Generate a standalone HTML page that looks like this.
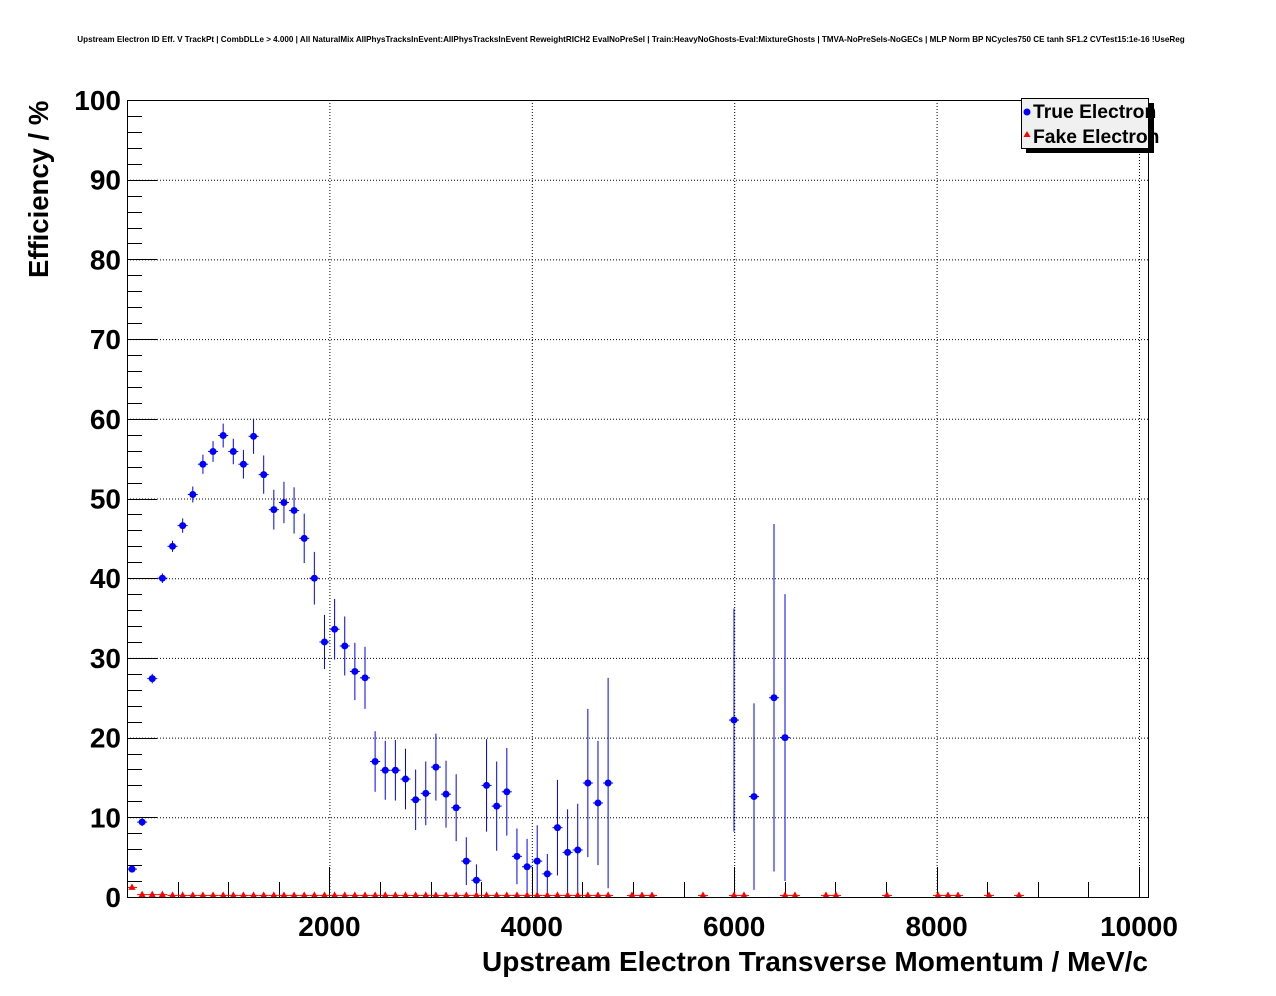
<!DOCTYPE html>
<html><head><meta charset="utf-8"><style>
body{margin:0;background:#fff;}
svg{display:block;font-family:"Liberation Sans",Arial,sans-serif;}
</style></head><body>
<svg id="s" width="1276" height="996" xmlns="http://www.w3.org/2000/svg">
<rect width="1276" height="996" fill="#fff"/>
<text x="631" y="42" font-size="8.1" font-weight="bold" text-anchor="middle">Upstream Electron ID Eff. V TrackPt | CombDLLe &gt; 4.000 | All NaturalMix AllPhysTracksInEvent:AllPhysTracksInEvent ReweightRICH2 EvalNoPreSel | Train:HeavyNoGhosts-Eval:MixtureGhosts | TMVA-NoPreSels-NoGECs | MLP Norm BP NCycles750 CE tanh SF1.2 CVTest15:1e-16 !UseReg</text>
<g id="grid" stroke="#000" stroke-width="1" stroke-dasharray="1,2"></g>
<g id="axes"></g>
<g id="data"></g>
<rect x="127.5" y="100.5" width="1021" height="797" fill="none" stroke="#000"/>
<text x="1148" y="971" font-size="28" font-weight="bold" text-anchor="end">Upstream Electron Transverse Momentum / MeV/c</text>
<text transform="translate(48,278) rotate(-90)" font-size="27.5" font-weight="bold">Efficiency / %</text>
<rect x="1026" y="103" width="128" height="50" fill="#000"/>
<rect x="1021.5" y="98.5" width="127" height="50" fill="#f0f0f0" stroke="#000"/>
<circle cx="1027" cy="112" r="3.5" fill="#00f"/>
<text x="1033" y="118" font-size="19.3" font-weight="bold">True Electron</text>
<polygon points="1027,131 1023.5,137 1030.5,137" fill="#f00"/>
<text x="1033" y="143" font-size="19.3" font-weight="bold">Fake Electron</text>
</svg>
<script>
const NS="http://www.w3.org/2000/svg";
function el(p,t,a,txt){const e=document.createElementNS(NS,t);for(const k in a)e.setAttribute(k,a[k]);if(txt!==undefined)e.textContent=txt;document.getElementById(p).appendChild(e);return e;}
const X=v=>127+v*0.1012, Y=v=>897-v*7.97;
for(let v=2000;v<=10000;v+=2000){el("grid","line",{x1:X(v)+.5,x2:X(v)+.5,y1:100,y2:897});}
for(let v=10;v<=100;v+=10){el("grid","line",{x1:127,x2:1148,y1:Y(v)+.5,y2:Y(v)+.5});}
for(let v=500;v<=10000;v+=500){const maj=v%2000==0;const x=Math.round(X(v))+.5;
 el("axes","line",{x1:x,x2:x,y1:897,y2:maj?867:882,stroke:"#000"});
 if(maj)el("axes","text",{x:X(v),y:936,"font-size":28,"font-weight":"bold","text-anchor":"middle"},v);}
for(let v=0;v<=100;v+=2){const maj=v%10==0;const y=Math.round(Y(v))+.5;
 el("axes","line",{x1:127,x2:maj?157:142,y1:y,y2:y,stroke:"#000"});
 if(maj)el("axes","text",{x:121,y:Y(v)+10,"font-size":28,"font-weight":"bold","text-anchor":"end"},v);}
const tv=[[3.5,.4],[9.4,.5],[27.4,.6],[40,.6],[44,.7],[46.6,.9],[50.5,1],[54.3,1.2],[55.9,1.3],[57.9,1.5],[55.9,1.6],[54.3,1.8],[57.8,2.2],[53,2.4],[48.6,2.5],[49.5,2.6],[48.5,2.9],[45,3.1],[40,3.3],[32,3.4],[33.6,3.8],[31.5,3.7],[28.3,3.6],[27.5,3.9],[17,3.8],[15.9,3.7],[15.9,3.8],[14.8,3.8],[12.2,3.8],[13,4],[16.3,4.2],[12.9,4.2],[11.2,4.2],[4.5,3],[2.1,2],[14,5.8],[11.4,5.6],[13.2,5.5],[5.1,3.5],[3.8,3.5],[4.5,4.5],[2.9,2.5],[8.7,6],[5.6,5.4],[5.9,5.8],[14.3,9.3],[11.8,7.8],[14.3,13.2]];
const pts=tv.map((d,i)=>[132+i*10.13,d[0],d[1]]);
pts.push([734,22.2,14],[754,12.6,11.7],[774,25,21.8],[785,20,18]);
for(const [x,v,e] of pts){const y=Y(v);
 el("data","line",{x1:x,x2:x,y1:Y(Math.min(100,v+e)),y2:Y(Math.max(0,v-e)),stroke:"#00f"});
 el("data","line",{x1:x-5,x2:x+5,y1:y,y2:y,stroke:"#00f"});
 el("data","circle",{cx:x,cy:y,r:3.5,fill:"#00f"});}
const fx=[];for(let i=0;i<48;i++)fx.push(132+i*10.13);
[632,642,652,703,734,744,785,795,826,836,887,938,948,958,989,1019].forEach(x=>fx.push(x));
fx.forEach((x,i)=>{const v=i==0?1.2:(i<4?0.3:0.2);const y=Y(v);
 el("data","line",{x1:x-5,x2:x+5,y1:y,y2:y,stroke:"#f00"});
 el("data","polygon",{points:`${x},${y-4} ${x-3.5},${y+2.5} ${x+3.5},${y+2.5}`,fill:"#f00"});});
</script>
</body></html>
